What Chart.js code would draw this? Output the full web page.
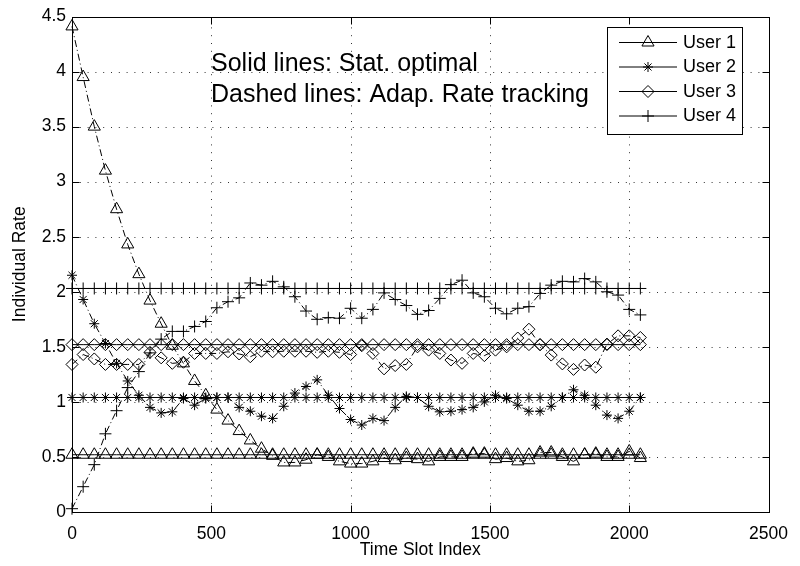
<!DOCTYPE html>
<html>
<head>
<meta charset="utf-8">
<script src="https://cdn.jsdelivr.net/npm/chart.js"></script>
<style>
  html, body { margin: 0; padding: 0; background: #fff; }
  canvas { display: block; }
</style>
</head>
<body>
<canvas id="chart" width="800" height="566"></canvas>
<script>
// time slot index of every plotted marker
var timeSlots = [0, 40, 80, 120, 160, 200, 240, 280, 320, 360, 400, 440, 480, 520, 560, 600, 640, 680,
  720, 760, 800, 840, 880, 920, 960, 1000, 1040, 1080, 1120, 1160, 1200, 1240, 1280, 1320, 1360,
  1400, 1440, 1480, 1520, 1560, 1600, 1640, 1680, 1720, 1760, 1800, 1840, 1880, 1920, 1960, 2000, 2040];

// adaptive rate tracking (dashed)
var user1Adaptive = [4.41, 3.95, 3.50, 3.10, 2.75, 2.43, 2.16, 1.92, 1.71, 1.51, 1.35, 1.19, 1.06, 0.93,
  0.83, 0.735, 0.65, 0.575, 0.51, 0.45, 0.45, 0.475, 0.52, 0.50, 0.46, 0.44, 0.44, 0.46, 0.49, 0.47,
  0.49, 0.48, 0.46, 0.50, 0.50, 0.50, 0.53, 0.53, 0.48, 0.49, 0.46, 0.47, 0.54, 0.54, 0.50, 0.46,
  0.52, 0.53, 0.50, 0.50, 0.55, 0.49];
var user2Adaptive = [2.15, 1.93, 1.71, 1.53, 1.35, 1.19, 1.06, 0.95, 0.90, 0.91, 1.03, 0.97, 1.03, 1.04,
  1.04, 0.95, 0.915, 0.87, 0.85, 0.96, 1.08, 1.14, 1.20, 1.06, 0.94, 0.84, 0.79, 0.85, 0.83, 0.95,
  1.05, 1.04, 0.96, 0.91, 0.915, 0.93, 0.95, 1.00, 1.06, 1.03, 0.97, 0.915, 0.915, 0.96, 1.04, 1.11,
  1.06, 0.97, 0.88, 0.85, 0.915, 1.04];
var user3Adaptive = [1.34, 1.43, 1.39, 1.34, 1.34, 1.34, 1.34, 1.45, 1.40, 1.35, 1.36, 1.44, 1.44, 1.44,
  1.455, 1.435, 1.41, 1.46, 1.455, 1.46, 1.46, 1.46, 1.45, 1.46, 1.45, 1.43, 1.51, 1.44, 1.30, 1.33,
  1.34, 1.50, 1.47, 1.44, 1.38, 1.35, 1.44, 1.42, 1.47, 1.50, 1.58, 1.66, 1.52, 1.425, 1.345, 1.295,
  1.335, 1.315, 1.525, 1.60, 1.60, 1.585];
var user4Adaptive = [0.03, 0.23, 0.43, 0.71, 0.92, 1.13, 1.275, 1.445, 1.57, 1.64, 1.64, 1.685, 1.73,
  1.855, 1.91, 1.945, 2.08, 2.06, 2.095, 2.045, 1.955, 1.825, 1.75, 1.765, 1.76, 1.85, 1.76, 1.84,
  1.99, 1.93, 1.875, 1.795, 1.83, 1.94, 2.065, 2.105, 1.99, 1.955, 1.85, 1.80, 1.85, 1.865, 1.985,
  2.06, 2.095, 2.09, 2.12, 2.09, 2.0, 1.97, 1.84, 1.79];

// statistically optimal rate per user (solid, constant)
var statOptimal = [0.52, 1.04, 1.52, 2.03];

var userNames = ['User 1', 'User 2', 'User 3', 'User 4'];
var xTickValues = [0, 500, 1000, 1500, 2000, 2500];
var xTickLabels = ['0', '500', '1000', '1500', '2000', '2500'];
var yTickValues = [0, 0.5, 1, 1.5, 2, 2.5, 3, 3.5, 4, 4.5];
var yTickLabels = ['0', '0.5', '1', '1.5', '2', '2.5', '3', '3.5', '4', '4.5'];
var noteLines = ['Solid lines: Stat. optimal', 'Dashed lines: Adap. Rate tracking'];

var adaptive = [user1Adaptive, user2Adaptive, user3Adaptive, user4Adaptive];
var markerStyles = ['triangle', 'star', 'rectRot', 'cross'];
var markerRadii = [7, 5, 6, 6];
var FONT = '"Liberation Sans", Arial, Helvetica, sans-serif';

Chart.defaults.font.family = FONT;

function makeSeries(values, k, dashed) {
  return {
    label: userNames[k],
    data: timeSlots.map(function (t, i) { return { x: t, y: values[i] }; }),
    borderColor: '#000',
    borderWidth: 1,
    borderDash: dashed ? [7, 3, 1, 3] : [],
    pointStyle: markerStyles[k],
    pointRadius: markerRadii[k],
    pointBorderColor: '#000',
    pointBackgroundColor: 'rgba(0,0,0,0)',
    pointBorderWidth: 1,
    fill: false,
    tension: 0,
    clip: false
  };
}

var datasets = [];
for (var k = 0; k < 4; k++) {
  datasets.push(makeSeries(timeSlots.map(function () { return statOptimal[k]; }), k, false));
  datasets.push(makeSeries(adaptive[k], k, true));
}

function drawMarker(ctx, style, r, x, y) {
  ctx.beginPath();
  if (style === 'triangle') {
    for (var j = 0; j < 3; j++) {
      var a = j * 2 * Math.PI / 3;
      var px = x + Math.sin(a) * r, py = y - Math.cos(a) * r;
      if (j) ctx.lineTo(px, py); else ctx.moveTo(px, py);
    }
    ctx.closePath();
  } else if (style === 'rectRot') {
    ctx.moveTo(x - r, y); ctx.lineTo(x, y - r); ctx.lineTo(x + r, y); ctx.lineTo(x, y + r);
    ctx.closePath();
  } else {
    ctx.moveTo(x - r, y); ctx.lineTo(x + r, y);
    ctx.moveTo(x, y - r); ctx.lineTo(x, y + r);
    if (style === 'star') {
      var d = r * Math.SQRT1_2;
      ctx.moveTo(x - d, y - d); ctx.lineTo(x + d, y + d);
      ctx.moveTo(x - d, y + d); ctx.lineTo(x + d, y - d);
    }
  }
  ctx.stroke();
}

var framePlugin = {
  id: 'matlabFrame',
  beforeDatasetsDraw: function (chart) {
    var ctx = chart.ctx, a = chart.chartArea;
    var xs = chart.scales.x, ys = chart.scales.y;
    ctx.save();
    ctx.strokeStyle = '#333';
    ctx.lineWidth = 1;
    ctx.setLineDash([1, 6.8]);
    xTickValues.slice(1, -1).forEach(function (v) {
      var px = Math.round(xs.getPixelForValue(v)) + 0.5;
      ctx.beginPath(); ctx.moveTo(px, a.bottom); ctx.lineTo(px, a.top); ctx.stroke();
    });
    yTickValues.slice(1, -1).forEach(function (v) {
      var py = Math.round(ys.getPixelForValue(v)) + 0.5;
      ctx.beginPath(); ctx.moveTo(a.left, py); ctx.lineTo(a.right, py); ctx.stroke();
    });
    ctx.restore();
  },
  afterDatasetsDraw: function (chart) {
    var ctx = chart.ctx, a = chart.chartArea;
    var xs = chart.scales.x, ys = chart.scales.y;
    var L = Math.round(a.left) + 0.5, R = Math.round(a.right) + 0.5;
    var T = Math.round(a.top) + 0.5, B = Math.round(a.bottom) + 0.5;
    ctx.save();
    ctx.strokeStyle = '#000';
    ctx.lineWidth = 1;
    ctx.setLineDash([]);
    ctx.strokeRect(L, T, R - L, B - T);
    // inward tick marks on all four sides
    ctx.beginPath();
    xTickValues.forEach(function (v) {
      var px = Math.round(xs.getPixelForValue(v)) + 0.5;
      ctx.moveTo(px, B); ctx.lineTo(px, B - 7);
      ctx.moveTo(px, T); ctx.lineTo(px, T + 7);
    });
    yTickValues.forEach(function (v) {
      var py = Math.round(ys.getPixelForValue(v)) + 0.5;
      ctx.moveTo(L, py); ctx.lineTo(L + 7, py);
      ctx.moveTo(R, py); ctx.lineTo(R - 7, py);
    });
    ctx.stroke();

    // annotation text
    ctx.fillStyle = '#000';
    ctx.font = '25px ' + FONT;
    ctx.textBaseline = 'alphabetic';
    ctx.textAlign = 'left';
    ctx.fillText(noteLines[0], 211, 71);
    ctx.fillText(noteLines[1], 211, 102);

    // legend
    var bx = 607.5, by = 27.5, bw = 135, bh = 107;
    ctx.fillStyle = '#fff';
    ctx.fillRect(bx, by, bw, bh);
    ctx.strokeRect(bx, by, bw, bh);
    var rows = [42, 66.5, 91, 115.5];
    ctx.font = '18px ' + FONT;
    ctx.textBaseline = 'middle';
    for (var k = 0; k < 4; k++) {
      var y = rows[k] + 0.5;
      ctx.beginPath(); ctx.moveTo(619, y); ctx.lineTo(677, y); ctx.stroke();
      drawMarker(ctx, markerStyles[k], markerRadii[k], 648, y);
      ctx.fillStyle = '#000';
      ctx.fillText(userNames[k], 683, rows[k] + 1);
    }
    ctx.restore();
  }
};

var ctx = document.getElementById('chart').getContext('2d');
var chart = new Chart(ctx, {
  type: 'line',
  data: { datasets: datasets },
  options: {
    responsive: false,
    animation: false,
    devicePixelRatio: 1,
    layout: { padding: { top: 15, right: 23, left: 0, bottom: 0 } },
    plugins: { legend: { display: false }, tooltip: { enabled: false } },
    scales: {
      x: {
        type: 'linear',
        min: 0,
        max: 2500,
        afterBuildTicks: function (s) { s.ticks = xTickValues.map(function (v) { return { value: v }; }); },
        afterFit: function (s) { s.height = 54; },
        grid: { display: false, drawTicks: false },
        border: { display: false },
        ticks: {
          autoSkip: false, maxRotation: 0, padding: 12, color: '#000',
          font: { size: 17.5 },
          callback: function (v, i) { return xTickLabels[i]; }
        },
        title: {
          display: true, text: 'Time Slot Index', color: '#000',
          font: { size: 17.5 }, padding: { top: 0, bottom: 5 }
        }
      },
      y: {
        min: 0,
        max: 4.5,
        afterBuildTicks: function (s) { s.ticks = yTickValues.map(function (v) { return { value: v }; }); },
        afterFit: function (s) { s.width = 72; },
        grid: { display: false, drawTicks: false },
        border: { display: false },
        ticks: {
          autoSkip: false, padding: 6, color: '#000',
          font: { size: 17.5 },
          callback: function (v, i) { return yTickLabels[i]; }
        },
        title: {
          display: true, text: 'Individual Rate', color: '#000',
          font: { size: 17.5 }, padding: { top: 10, bottom: 0 }
        }
      }
    }
  },
  plugins: [framePlugin]
});
</script>
</body>
</html>
